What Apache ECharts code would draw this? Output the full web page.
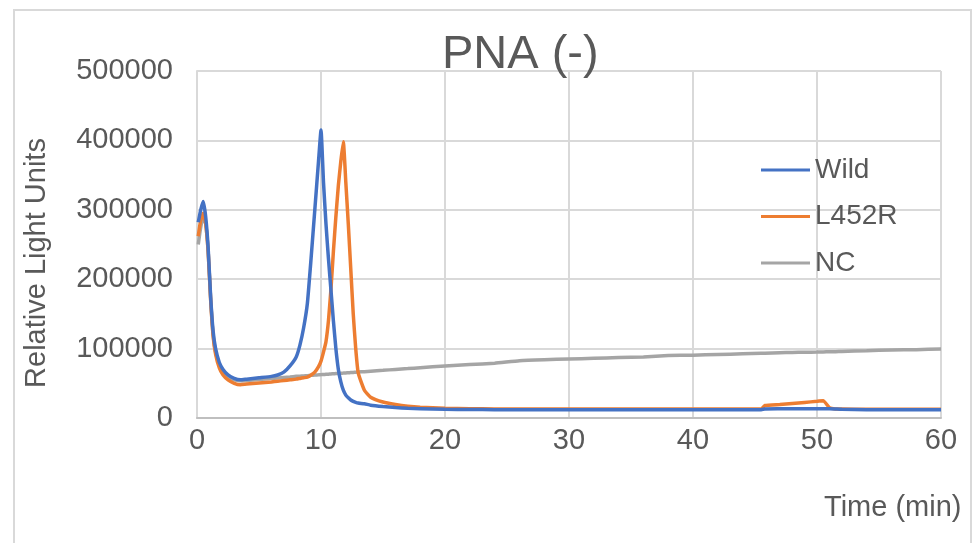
<!DOCTYPE html>
<html>
<head>
<meta charset="utf-8">
<script src="https://cdn.jsdelivr.net/npm/echarts@6/dist/echarts.min.js"></script>
<style>
html,body{margin:0;padding:0;background:#fff;}
#chart{width:976px;height:543px;}
</style>
</head>
<body>
<div id="chart"></div>
<script>
const chartTitle = 'PNA (-)';
const xAxisTitle = 'Time (min)';
const yAxisTitle = 'Relative Light Units';
const seriesNames = ['Wild', 'L452R', 'NC'];
const xTicks = [0, 10, 20, 30, 40, 50, 60];
const yTicks = [0, 100000, 200000, 300000, 400000, 500000];

const time = [0.1,0.3,0.5,0.7,0.9, 1.1,1.3,1.5,1.8,2.1, 2.5,3,3.5,4,5, 6,6.5,7,7.5,8,
  8.3,8.6,8.9,9.2,9.5, 9.8,10,10.2,10.4,10.6, 10.8,11,11.2,11.4,11.6, 11.8,12,12.2,12.4,12.6,
  12.8,13,13.5,14,15, 16,17,18,20,22, 24,26,28,30,32, 34,36,38,40,42,
  44,45.5,45.8,47,48, 49,50,50.5,51,51.5, 52,54,56,58,60];

const wild = [282000,300000,312000,290000,245000, 175000,125000,100000,80000,70000,
  62000,57000,55000,56000,58000, 60000,62000,66000,75000,88000,
  105000,130000,165000,230000,300000, 370000,415000,340000,280000,230000,
  185000,140000,100000,70000,52000, 40000,33000,29000,26000,24000,
  22500,21500,20500,18500,16500, 15000,14000,13500,12500,12200,
  12000,12000,12000,12000,12000, 12000,12000,12000,12000,12000,
  12000,12000,13000,13200,13300, 13400,13500,13500,13500,13000,
  12500,12000,12000,12000,12000];

const l452r = [262000,285000,295000,280000,240000, 170000,118000,92000,72000,62000,
  55000,50000,48000,49000,50500, 52000,53000,54000,55000,56000,
  57000,58000,59000,62000,66000, 74000,82000,95000,110000,140000,
  185000,240000,290000,335000,370000, 398000,340000,280000,215000,150000,
  100000,65000,40000,30000,23000, 19500,17000,15500,14000,13500,
  13000,13000,13000,13000,13000, 13000,13000,13000,13000,13000,
  13000,13000,18000,19500,21000, 22500,24000,25000,15000,13000,
  12800,12500,12500,12500,12500];

const nc = [250000,275000,290000,280000,240000, 172000,120000,95000,76000,66000,
  59000,55000,53500,54000,55500, 57000,57500,58500,59200,60000,
  60300,60700,61000,61500,61900, 62200,62500,62700,63000,63200,
  63500,63700,64000,64200,64500, 64700,65000,65200,65500,65700,
  66000,66200,66800,67500,68700, 70000,71200,72500,75000,77000,
  79000,82500,84000,85000,86000, 87000,88000,90000,90500,91500,
  92500,93200,93300,94000,94500, 94800,95000,95200,95400,95600,
  96000,97000,98000,98500,99500];

const colors = ['#4472C4', '#ED7D31', '#A5A5A5'];
const FONT = "'Liberation Sans', Arial, sans-serif";
const TXT = '#595959';

const chart = echarts.init(document.getElementById('chart'), null, {renderer: 'canvas'});
const values = [wild, l452r, nc];

chart.setOption({
  animation: false,
  backgroundColor: '#ffffff',
  title: {
    text: chartTitle,
    left: 442, top: 32, padding: 0,
    textStyle: {fontFamily: FONT, fontSize: 47, fontWeight: 'normal', color: TXT}
  },
  legend: {
    orient: 'vertical',
    left: 761, top: 156, padding: 0,
    itemWidth: 49, itemHeight: 3, itemGap: 18.5,
    icon: 'rect',
    textStyle: {fontFamily: FONT, fontSize: 28, color: TXT},
    data: seriesNames
  },
  grid: {left: 197, right: 35, top: 71, bottom: 125, containLabel: false},
  xAxis: {
    type: 'value', min: xTicks[0], max: xTicks[xTicks.length - 1], interval: 10,
    axisLine: {show: true, lineStyle: {color: '#bfbfbf', width: 2}},
    axisTick: {show: false},
    axisLabel: {fontFamily: FONT, fontSize: 29, color: TXT, margin: 8},
    splitLine: {show: true, lineStyle: {color: '#d9d9d9', width: 2}}
  },
  yAxis: {
    type: 'value', min: yTicks[0], max: yTicks[yTicks.length - 1], interval: 100000,
    axisLine: {show: true, lineStyle: {color: '#d9d9d9', width: 2}},
    axisTick: {show: false},
    axisLabel: {fontFamily: FONT, fontSize: 29, color: TXT, margin: 24, formatter: v => String(v)},
    splitLine: {show: true, lineStyle: {color: '#d9d9d9', width: 2}}
  },
  graphic: [
    {type: 'rect', shape: {x: 14, y: 10, width: 957, height: 560}, style: {fill: 'none', stroke: '#d9d9d9', lineWidth: 2}, silent: true, z: -1},
    {type: 'text', left: 824, top: 493, style: {text: xAxisTitle, font: '29px ' + FONT, fill: TXT}},
    {type: 'text', x: 37, y: 263, rotation: Math.PI / 2, style: {text: yAxisTitle, font: '29px ' + FONT, fill: TXT, align: 'center', verticalAlign: 'middle'}}
  ],
  series: seriesNames.map((name, k) => ({
    name: name,
    type: 'line',
    showSymbol: false,
    symbol: 'none',
    smooth: 0.15,
    color: colors[k],
    lineStyle: {width: 3.5, color: colors[k]},
    z: 3 - k,
    data: time.map((t, i) => [t, values[k][i]])
  }))
});
</script>
</body>
</html>
